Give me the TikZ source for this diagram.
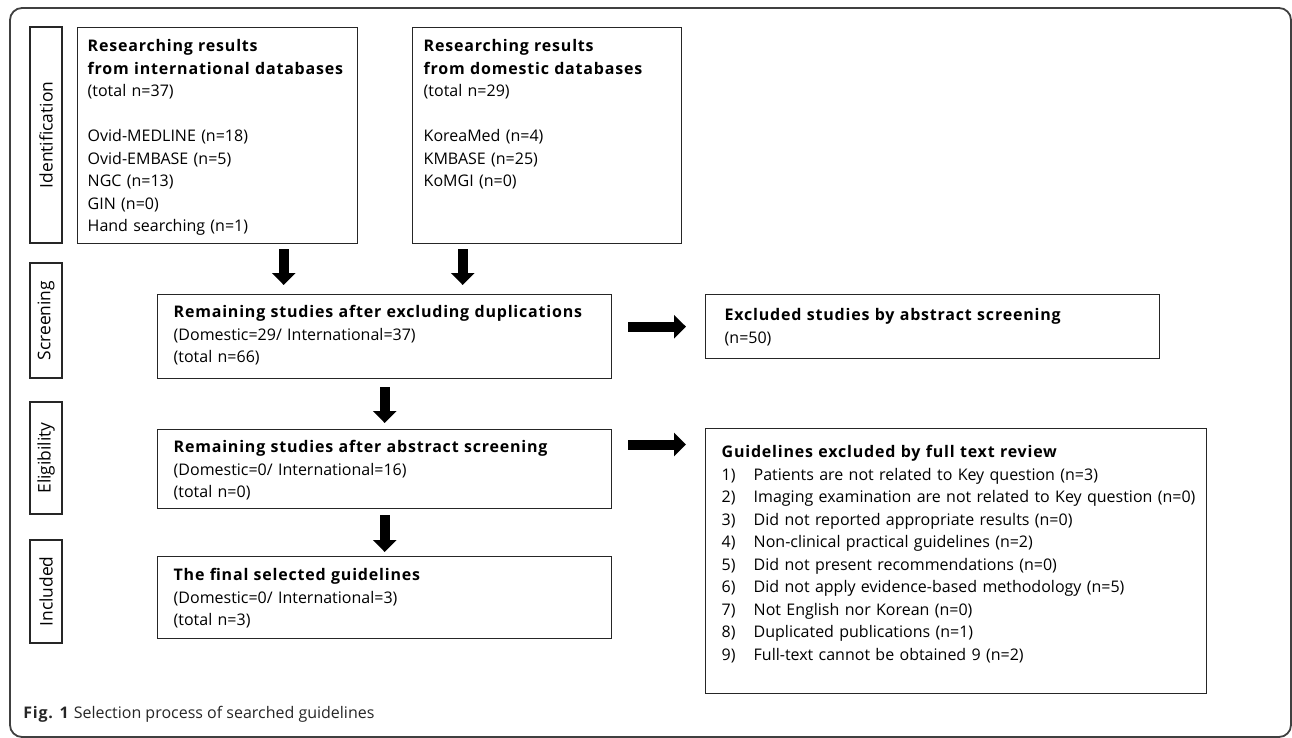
\documentclass[tikz,border=0pt]{standalone}
\usepackage{fontspec}
\setmainfont{Open Sans}[BoldFeatures={LetterSpace=5}]
\usetikzlibrary{arrows.meta,positioning}

\tikzset{
  box/.style={draw=black!85, line width=0.7pt, anchor=north west, align=left,
    inner ysep=0pt, font=\fontsize{8}{11.25}\selectfont},
  stagelabel/.style={draw=black!85, line width=0.7pt, rotate=90, inner sep=0pt,
    minimum height=16pt, font=\fontsize{8.7}{10}\selectfont},
  blockarrow/.style={line width=5pt, -{Triangle[length=6pt,width=11.5pt]}},
  frame/.style={draw=black!75, line width=0.9pt, rounded corners=6pt}
}
\newcommand{\reason}[2]{\mbox{\makebox[16pt][l]{#1}#2}}

\begin{document}
\begin{tikzpicture}[x=0.5pt,y=-0.5pt]
  \useasboundingbox (0,0) rectangle (1292,738);
  % outer frame
  \draw[frame] (10,8) rectangle (1291,737);

  % stage labels
  \node[stagelabel, minimum width=108pt] (ident) at (46,135) {Identification};
  \node[stagelabel, minimum width=57.5pt] (screen) at (46,320.5) {Screening};
  \node[stagelabel, minimum width=56pt] (elig) at (46,458) {Eligibility};
  \node[stagelabel, minimum width=51.5pt] (incl) at (46,591.5) {Included};

  % boxes
  \node[box, inner xsep=5pt, text width=130pt, text height=12pt, text depth=96pt] (intl) at (77,27)
    {\textbf{Researching results}\\\textbf{from international databases}\\(total n=37)\\[11.25pt]
     Ovid-MEDLINE (n=18)\\Ovid-EMBASE (n=5)\\NGC (n=13)\\GIN (n=0)\\Hand searching (n=1)};
  \node[box, inner xsep=5.5pt, text width=123.5pt, text height=12pt, text depth=96pt] (dom) at (412,27)
    {\textbf{Researching results}\\\textbf{from domestic databases}\\(total n=29)\\[11.25pt]
     KoreaMed (n=4)\\KMBASE (n=25)\\KoMGI (n=0)};
  \node[box, inner xsep=8pt, text width=211pt, text height=11.5pt, text depth=30.5pt] (rem) at (157,294)
    {\textbf{Remaining studies after excluding duplications}\\(Domestic=29/ International=37)\\(total n=66)};
  \node[box, inner xsep=9.5pt, text width=208pt, text height=13pt, text depth=19pt] (excl) at (705,294)
    {\textbf{Excluded studies by abstract screening}\\(n=50)};
  \node[box, inner xsep=8pt, text width=211pt, text height=11.5pt, text depth=28pt] (rem2) at (157,429)
    {\textbf{Remaining studies after abstract screening}\\(Domestic=0/ International=16)\\(total n=0)};
  \node[box, inner xsep=8pt, text width=234.5pt, text height=14.5pt, text depth=118pt] (guide) at (705,428)
    {\textbf{Guidelines excluded by full text review}\\
     \reason{1)}{Patients are not related to Key question (n=3)}\\
     \reason{2)}{Imaging examination are not related to Key question (n=0)}\\
     \reason{3)}{Did not reported appropriate results (n=0)}\\
     \reason{4)}{Non-clinical practical guidelines (n=2)}\\
     \reason{5)}{Did not present recommendations (n=0)}\\
     \reason{6)}{Did not apply evidence-based methodology (n=5)}\\
     \reason{7)}{Not English nor Korean (n=0)}\\
     \reason{8)}{Duplicated publications (n=1)}\\
     \reason{9)}{Full-text cannot be obtained 9 (n=2)}};
  \node[box, inner xsep=8pt, text width=211pt, text height=12pt, text depth=29pt] (final) at (157,556)
    {\textbf{The final selected guidelines}\\(Domestic=0/ International=3)\\(total n=3)};

  % arrows
  \draw[blockarrow, shorten <=2.5pt, shorten >=4.5pt] ([xshift=33pt]intl.south) -- ([xshift=33pt]intl.south |- rem.north);
  \draw[blockarrow, shorten <=2.5pt, shorten >=4.5pt] ([xshift=-42.25pt]dom.south) -- ([xshift=-42.25pt]dom.south |- rem.north);
  \draw[blockarrow, shorten <=4pt, shorten >=3pt] (rem.south) -- (rem2.north);
  \draw[blockarrow, shorten <=3pt, shorten >=2pt] (rem2.south) -- (final.north);
  \draw[blockarrow, shorten <=8pt, shorten >=9.5pt] (rem.east |- excl.west) -- (excl.west);
  \draw[blockarrow, shorten <=8pt, shorten >=9.5pt] ([yshift=-7.75pt]rem2.north east) -- ([yshift=-7.75pt]rem2.north east -| guide.west);

  % caption
  \node[anchor=base west, inner sep=0pt, text=black!85, font=\fontsize{8}{10}\selectfont] (caption) at (23,718)
    {\textbf{Fig. 1} Selection process of searched guidelines};
\end{tikzpicture}
\end{document}
